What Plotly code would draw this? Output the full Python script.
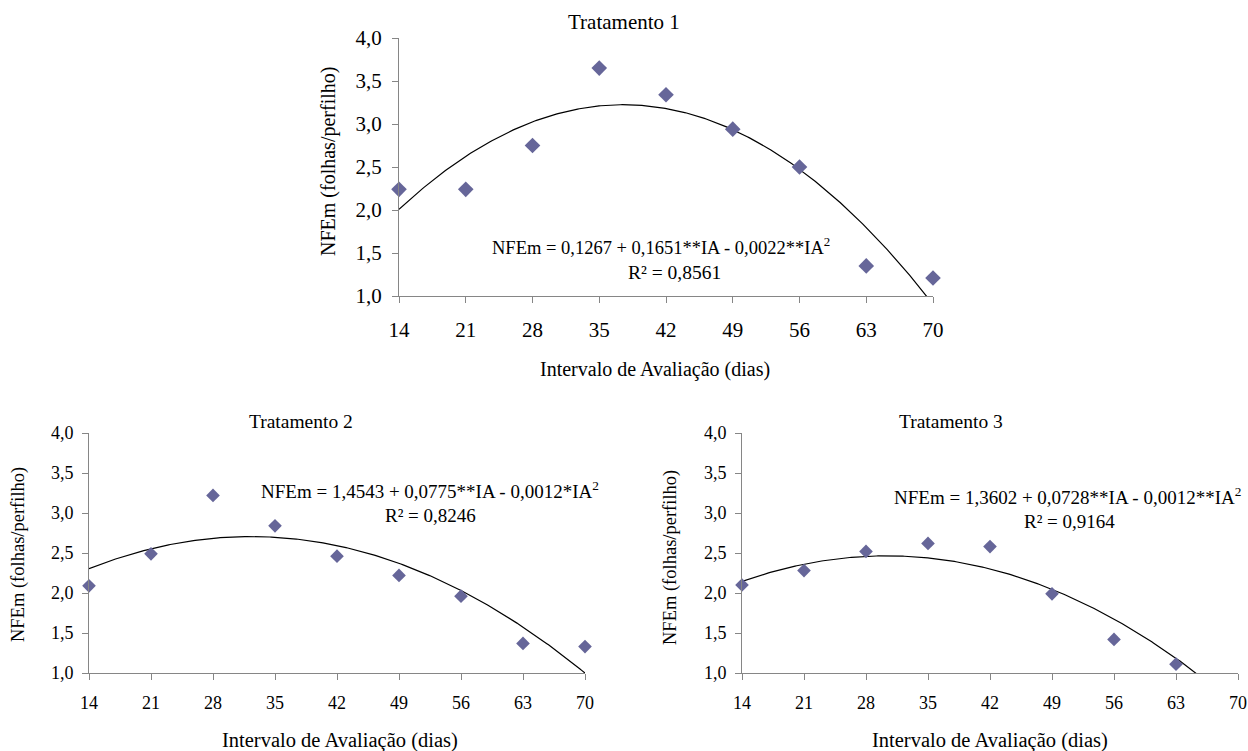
import numpy as np
import plotly.graph_objects as go

# ---- data ----
ia = [14, 21, 28, 35, 42, 49, 56, 63, 70]
ia_t3 = [14, 21, 28, 35, 42, 49, 56, 63]
nfem_t1 = [2.24, 2.24, 2.75, 3.65, 3.34, 2.94, 2.50, 1.35, 1.21]
nfem_t2 = [2.09, 2.49, 3.22, 2.84, 2.46, 2.22, 1.96, 1.37, 1.33]
nfem_t3 = [2.10, 2.28, 2.52, 2.62, 2.58, 1.99, 1.42, 1.11]

# regression coefficients as printed on the chart (b0, b1, b2)
coef_t1 = [0.1267, 0.1651, -0.0022]
coef_t2 = [1.4543, 0.0775, -0.0012]
coef_t3 = [1.3602, 0.0728, -0.0012]

titles = ["Tratamento 1", "Tratamento 2", "Tratamento 3"]
eq_texts = ["NFEm = 0,1267 + 0,1651**IA - 0,0022**IA<sup>2</sup>",
            "NFEm = 1,4543 + 0,0775**IA - 0,0012*IA<sup>2</sup>",
            "NFEm = 1,3602 + 0,0728**IA - 0,0012**IA<sup>2</sup>"]
r2_texts = ["R² = 0,8561", "R² = 0,8246", "R² = 0,9164"]
x_ticks = [14, 21, 28, 35, 42, 49, 56, 63, 70]
y_ticks = [1.0, 1.5, 2.0, 2.5, 3.0, 3.5, 4.0]
y_ticktext = ["1,0", "1,5", "2,0", "2,5", "3,0", "3,5", "4,0"]
x_title = "Intervalo de Avaliação (dias)"
y_title = "NFEm (folhas/perfilho)"

W, H = 1248, 751
FONT = "Liberation Serif"
MARKER = "#666699"
AX = "#868686"

fig = go.Figure()

panels = [
    dict(x=ia, y=nfem_t1, coef=coef_t1, xd=(399, 933), yd=(38, 296), ms=12, fs=21),
    dict(x=ia, y=nfem_t2, coef=coef_t2, xd=(89, 585), yd=(433, 673), ms=10.5, fs=18),
    dict(x=ia_t3, y=nfem_t3, coef=coef_t3, xd=(742, 1238), yd=(433, 673), ms=10.5, fs=18),
]

for i, p in enumerate(panels):
    k = "" if i == 0 else str(i + 1)
    xs = np.linspace(14, 70, 300)
    b0, b1, b2 = p["coef"]
    ys = b0 + b1 * xs + b2 * xs ** 2
    fig.add_trace(go.Scatter(x=xs, y=ys, mode="lines", line=dict(color="black", width=1.2),
                             xaxis="x" + k, yaxis="y" + k, showlegend=False, hoverinfo="skip"))
    fig.add_trace(go.Scatter(x=p["x"], y=p["y"], mode="markers",
                             marker=dict(symbol="diamond", size=p["ms"], color=MARKER),
                             cliponaxis=False, xaxis="x" + k, yaxis="y" + k, showlegend=False))
    x0, x1 = p["xd"]
    y0, y1 = p["yd"]
    fig.layout["xaxis" + k] = dict(
        domain=[x0 / W, x1 / W], range=[14, 70], tickvals=x_ticks, ticks="outside", ticklen=6,
        tickcolor=AX, showline=True, linecolor=AX, linewidth=1, showgrid=False, zeroline=False,
        tickfont=dict(family=FONT, size=p["fs"], color="black"), anchor="y" + k,
        automargin=False, ticklabelstandoff=9 if i == 0 else 7)
    fig.layout["yaxis" + k] = dict(
        domain=[1 - y1 / H, 1 - y0 / H], range=[1, 4], tickvals=y_ticks, ticktext=y_ticktext,
        ticks="outside", ticklen=6, tickcolor=AX, showline=True, linecolor=AX, linewidth=1,
        showgrid=False, zeroline=False, anchor="x" + k, automargin=False,
        tickfont=dict(family=FONT, size=p["fs"], color="black"),
        ticklabelstandoff=6 if i == 0 else 5)

def ann(text, px, py, size, angle=0):
    fig.add_annotation(text=text, x=px / W, y=1 - py / H, xref="paper", yref="paper",
                       xanchor="center", yanchor="middle", showarrow=False, textangle=angle,
                       font=dict(family=FONT, size=size, color="black"))

# panel 1
ann(titles[0], 624, 22, 21)
ann(y_title, 328, 162, 20, -90)
ann(x_title, 655, 369, 20)
ann(eq_texts[0], 661, 246, 18.5)
ann(r2_texts[0], 674, 272, 19.5)
# panel 2
ann(titles[1], 301, 421, 19.5)
ann(y_title, 18, 555, 18.5, -90)
ann(x_title, 340, 740, 20.5)
ann(eq_texts[1], 430, 490, 19)
ann(r2_texts[1], 430, 515, 19)
# panel 3
ann(titles[2], 951, 421, 19.5)
ann(y_title, 670, 558, 18.5, -90)
ann(x_title, 990, 740, 20.5)
ann(eq_texts[2], 1067, 496, 19)
ann(r2_texts[2], 1069, 521, 19)

fig.update_layout(template="none", width=W, height=H, margin=dict(l=0, r=0, t=0, b=0),
                  paper_bgcolor="white", plot_bgcolor="white",
                  font=dict(family=FONT, color="black"))

fig.write_html("out.html", config={"displayModeBar": False},
               post_script="document.body.style.margin='0';document.body.style.padding='0';")
